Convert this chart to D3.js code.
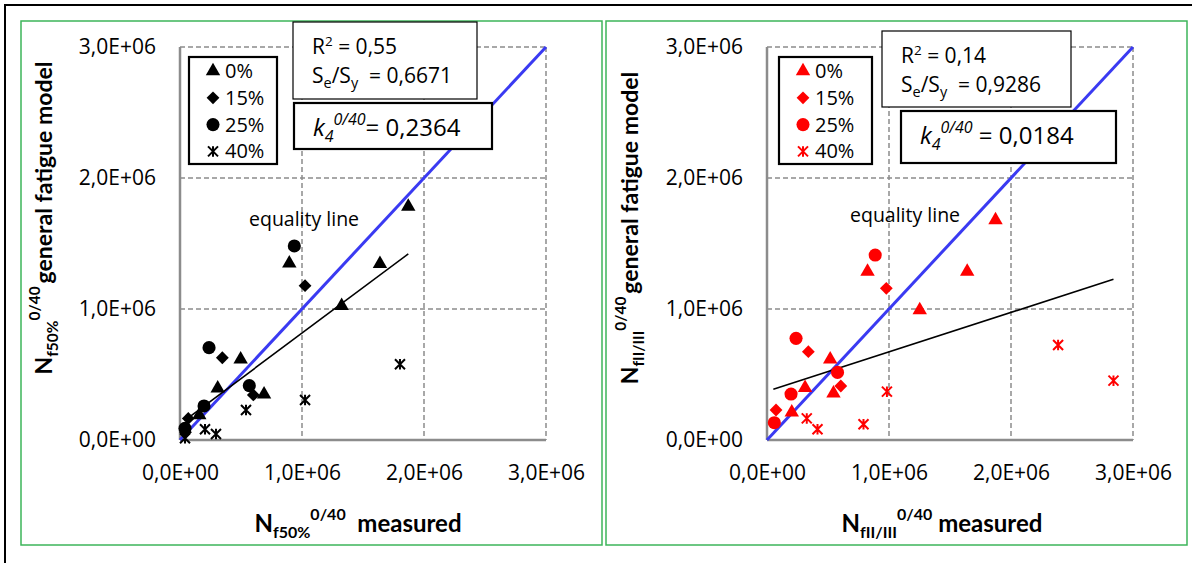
<!DOCTYPE html>
<html><head><meta charset="utf-8">
<script src="https://cdn.jsdelivr.net/npm/d3@7"></script>
<style>html,body{margin:0;padding:0;background:#fff;} svg{display:block;font-family:"Open Sans",sans-serif;}</style>
</head><body>
<script>
// ---------- data ----------
const tickValues = [0, 1e6, 2e6, 3e6];
const seriesLabels = ["0%", "15%", "25%", "40%"];
// left panel: N_f50%  [measured, model]
const left0 = [[1.871e6,1.781e6],[0.896e6,1.349e6],[1.639e6,1.344e6],[1.325e6,1.025e6],[0.497e6,0.616e6],[0.309e6,0.394e6],[0.689e6,0.349e6],[0.158e6,0.191e6]];
const left15 = [[1.025e6,1.178e6],[0.347e6,0.628e6],[0.601e6,0.344e6],[0.068e6,0.165e6],[0.045e6,0.06e6]];
const left25 = [[0.937e6,1.481e6],[0.238e6,0.705e6],[0.568e6,0.415e6],[0.197e6,0.26e6],[0.041e6,0.089e6]];
const left40 = [[1.803e6,0.578e6],[1.025e6,0.305e6],[0.541e6,0.229e6],[0.205e6,0.082e6],[0.295e6,0.046e6],[0.041e6,0.013e6]];
const leftTrend = [[0.04e6,0.15e6],[1.871e6,1.42e6]];
// right panel: N_fII/III
const right0 = [[1.873e6,1.679e6],[0.824e6,1.285e6],[1.641e6,1.285e6],[1.252e6,0.992e6],[0.518e6,0.616e6],[0.312e6,0.399e6],[0.545e6,0.356e6],[0.203e6,0.211e6]];
const right15 = [[0.978e6,1.158e6],[0.339e6,0.674e6],[0.605e6,0.412e6],[0.074e6,0.229e6]];
const right25 = [[0.887e6,1.412e6],[0.238e6,0.776e6],[0.578e6,0.516e6],[0.197e6,0.351e6],[0.06e6,0.132e6]];
const right40 = [[2.386e6,0.725e6],[2.84e6,0.453e6],[0.983e6,0.369e6],[0.326e6,0.165e6],[0.414e6,0.082e6],[0.791e6,0.12e6]];
const rightTrend = [[0.052e6,0.387e6],[2.84e6,1.227e6]];
const equality = [[0,0],[3e6,3e6]];
const statsLeft = {r2: "0,55", se: "0,6671", k4: "0,2364"};
const statsRight = {r2: "0,14", se: "0,9286", k4: "0,0184"};

// ---------- drawing ----------
const W = 1192, H = 563;
const svg = d3.select("body").append("svg").attr("width", W).attr("height", H);

svg.append("rect").attr("x",5).attr("y",5).attr("width",1195).attr("height",570)
  .attr("fill","none").attr("stroke","#000").attr("stroke-width",2);
const green = "#3cb55a";
svg.append("rect").attr("x",21).attr("y",21).attr("width",581).attr("height",524).attr("fill","none").attr("stroke",green).attr("stroke-width",1.5);
svg.append("rect").attr("x",606).attr("y",21).attr("width",581).attr("height",524).attr("fill","none").attr("stroke",green).attr("stroke-width",1.5);

const fmt = v => {
  if (v === 0) return "0,0E+00";
  const [m, e] = v.toExponential(1).split("e");
  const ex = parseInt(e);
  return m.replace(".", ",") + "E" + (ex < 0 ? "-" : "+") + String(Math.abs(ex)).padStart(2, "0");
};

const starType = { draw(ctx, size) { const r = Math.sqrt(size) / 2;
  ctx.moveTo(-r,-r); ctx.lineTo(r,r); ctx.moveTo(-r,r); ctx.lineTo(r,-r); ctx.moveTo(0,-r*1.05); ctx.lineTo(0,r*1.05); } };

function marker(g, kind, color) {
  if (kind === 0) return g.append("path").attr("d", d3.symbol().type(d3.symbolTriangle).size(90)()).attr("fill", color);
  if (kind === 1) return g.append("path").attr("d", d3.symbol().type(d3.symbolSquare).size(82)()).attr("fill", color);
  if (kind === 2) return g.append("path").attr("d", d3.symbol().type(d3.symbolCircle).size(135)()).attr("fill", color);
  return g.append("path").attr("d", d3.symbol().type(starType).size(100)()).attr("fill","none").attr("stroke", color).attr("stroke-width", 2);
}

function panel(cfg) {
  const x = d3.scaleLinear().domain([0, 3e6]).range([0, 366]);
  const y = d3.scaleLinear().domain([0, 3e6]).range([393, 0]);
  const g = svg.append("g").attr("transform", `translate(${cfg.ox},${cfg.oy})`);

  // grid
  g.selectAll(".gx").data(tickValues.slice(1)).join("line")
    .attr("x1", d => x(d)).attr("x2", d => x(d)).attr("y1", y(3e6)).attr("y2", y(0))
    .attr("stroke", "#8c8c8c").attr("stroke-width", 1.5).attr("stroke-dasharray", "5,3");
  g.selectAll(".gy").data(tickValues.slice(1)).join("line")
    .attr("y1", d => y(d)).attr("y2", d => y(d)).attr("x1", x(0)).attr("x2", x(3e6))
    .attr("stroke", "#8c8c8c").attr("stroke-width", 1.5).attr("stroke-dasharray", "5,3");

  // axes
  const ax = g.append("g").attr("transform", `translate(0,${y(0)})`)
    .call(d3.axisBottom(x).tickValues(tickValues).tickFormat(fmt).tickSize(0).tickPadding(25));
  const ay = g.append("g").call(d3.axisLeft(y).tickValues(tickValues).tickFormat(fmt).tickSize(0).tickPadding(24));
  [ax, ay].forEach(a => { a.select(".domain").remove();
    a.selectAll("text").attr("font-size", 21).attr("fill", "#000").attr("font-family", "Open Sans"); });
  g.append("line").attr("x1", 0).attr("x2", 0).attr("y1", y(3e6)).attr("y2", y(0)).attr("stroke", "#8c8c8c").attr("stroke-width", 2.5);
  g.append("line").attr("x1", 0).attr("x2", x(3e6)).attr("y1", y(0)).attr("y2", y(0)).attr("stroke", "#8c8c8c").attr("stroke-width", 2.5);

  const line = d3.line().x(d => x(d[0])).y(d => y(d[1]));
  g.append("path").attr("d", line(equality)).attr("stroke", "#3a3af2").attr("stroke-width", 3).attr("fill", "none");
  g.append("path").attr("d", line(cfg.trend)).attr("stroke", "#000").attr("stroke-width", 1.6).attr("fill", "none");

  cfg.series.forEach((s, i) => {
    s.forEach(p => {
      const mg = g.append("g").attr("transform", `translate(${x(p[0])},${y(p[1])})` + (i === 1 ? " rotate(45)" : ""));
      marker(mg, i, cfg.color);
    });
  });

  g.append("text").attr("x", cfg.eqX).attr("y", cfg.eqY).attr("font-size", 19.5).text("equality line");

  // legend
  const lg = svg.append("g");
  lg.append("rect").attr("x", cfg.lg[0]).attr("y", cfg.lg[1]).attr("width", cfg.lg[2]).attr("height", 107)
    .attr("fill", "#fff").attr("stroke", "#000").attr("stroke-width", 2.2);
  seriesLabels.forEach((lab, i) => {
    const yy = cfg.lg[1] + 14 + i * 26.8;
    const mg = lg.append("g").attr("transform", `translate(${cfg.lg[0] + 24},${yy})` + (i === 1 ? " rotate(45)" : ""));
    marker(mg, i, cfg.color);
    lg.append("text").attr("x", cfg.lg[0] + 36).attr("y", yy + 7).attr("font-size", 20).text(lab);
  });

  // stats boxes
  const b1 = cfg.box1;
  svg.append("rect").attr("x", b1[0]).attr("y", b1[1]).attr("width", b1[2]).attr("height", b1[3]).attr("fill", "#fff").attr("stroke", "#000").attr("stroke-width", 1.2);
  const t1 = svg.append("text").attr("x", b1[0] + 19).attr("y", b1[1] + 32).attr("font-size", 21);
  t1.append("tspan").text("R");
  t1.append("tspan").attr("font-size", 13.5).attr("dy", -8).text("2");
  t1.append("tspan").attr("dy", 8).text(" = " + cfg.stats.r2);
  const t2 = svg.append("text").attr("x", b1[0] + 19).attr("y", b1[1] + 61).attr("font-size", 21);
  t2.append("tspan").text("S");
  t2.append("tspan").attr("font-size", 14.5).attr("dy", 5).text("e");
  t2.append("tspan").attr("dy", -5).text("/S");
  t2.append("tspan").attr("font-size", 14.5).attr("dy", 5).text("y");
  t2.append("tspan").attr("dy", -5).attr("xml:space", "preserve").text("  = " + cfg.stats.se);

  const b2 = cfg.box2;
  svg.append("rect").attr("x", b2[0]).attr("y", b2[1]).attr("width", b2[2]).attr("height", b2[3]).attr("fill", "#fff").attr("stroke", "#000").attr("stroke-width", 2.2);
  const t3 = svg.append("text").attr("x", b2[0] + 19).attr("y", b2[1] + 33).attr("font-size", 24);
  t3.append("tspan").attr("font-style", "italic").text("k");
  t3.append("tspan").attr("font-style", "italic").attr("font-size", 16).attr("dy", 6).text("4");
  t3.append("tspan").attr("font-style", "italic").attr("font-size", 16).attr("dy", -17).text("0/40");
  t3.append("tspan").attr("dy", 11).text(cfg.k4sep + "= " + cfg.stats.k4);

  // axis titles
  const xt = svg.append("text").attr("x", cfg.xtX).attr("y", 532).attr("font-size", 24).attr("font-weight", "bold").attr("font-family", "Lato").attr("text-anchor", "middle");
  xt.append("tspan").text("N");
  xt.append("tspan").attr("font-size", 16).attr("dy", 6).text(cfg.sub);
  xt.append("tspan").attr("font-size", 16).attr("dy", -18).text("0/40");
  xt.append("tspan").attr("dy", 12).attr("xml:space", "preserve").text(cfg.xsep + "measured");

  const yt = svg.append("text").attr("transform", `translate(${cfg.ytX},${cfg.ytY}) rotate(-90)`).attr("font-size", 23).attr("font-weight", "bold").attr("font-family", "Lato").attr("text-anchor", "middle");
  yt.append("tspan").text("N");
  yt.append("tspan").attr("font-size", 15.5).attr("dy", 6).text(cfg.sub);
  yt.append("tspan").attr("font-size", 15.5).attr("dy", -18).text("0/40");
  yt.append("tspan").attr("dy", 12).text("\u2009general fatigue model");
}

panel({ox: 180, oy: 47, color: "#000", series: [left0, left15, left25, left40], trend: leftTrend,
  eqX: 69, eqY: 179, lg: [189, 57, 88], box1: [293, 22, 184, 77], box2: [294, 103, 198, 46], stats: statsLeft, k4sep: "",
  sub: "f50%", xsep: "  ", xtX: 358, ytX: 52, ytY: 218});
panel({ox: 767, oy: 47, color: "#ff0000", series: [right0, right15, right25, right40], trend: rightTrend,
  eqX: 83, eqY: 175, lg: [779, 57, 93], box1: [882, 31, 189, 76], box2: [901, 111, 215, 52], stats: statsRight, k4sep: " ",
  sub: "fII/III", xsep: " ", xtX: 942, ytX: 638, ytY: 228});
</script>
</body></html>
